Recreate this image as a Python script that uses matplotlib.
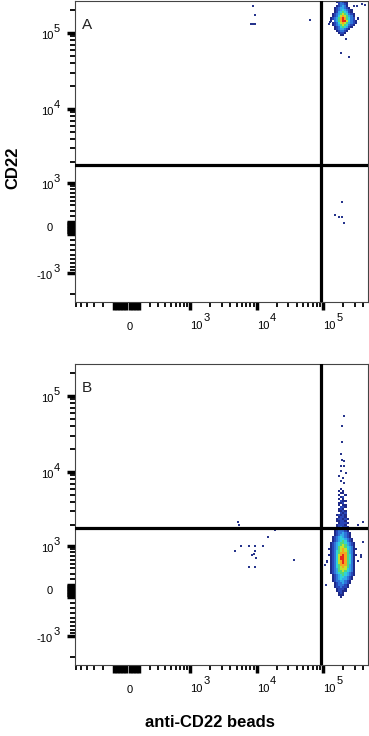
"""
Flow cytometry pseudocolor plots: CD22 vs anti-CD22 beads (panels A and B).
"""
import numpy as np
import matplotlib
matplotlib.use("Agg")
import matplotlib.pyplot as plt
from matplotlib.colors import ListedColormap, BoundaryNorm
from matplotlib.ticker import NullFormatter

plt.rcParams['font.family'] = ['Liberation Sans', 'DejaVu Sans']

# asinh cofactors of the biexponential-like display scales
X_COFACTOR = 221.0
Y_COFACTOR = 548.0

x_limits = (-630, 470000)
y_limits = (-2550, 262144)

gate_x = 92000
gate_y = 1800

# labelled decades: (value, base text, exponent text)
x_labels = [(0, '0', ''), (1e3, '10', '3'), (1e4, '10', '4'), (1e5, '10', '5')]
y_labels = [(-1e3, '-10', '3'), (0, '0', ''), (1e3, '10', '3'), (1e4, '10', '4'), (1e5, '10', '5')]

zero_block = [k * 25 for k in range(-4, 5)]
x_major = zero_block + [1e3, 1e4, 1e5]
x_minor = ([-600, -500, -400, -300, -200] + [k * 100 for k in range(2, 10)]
           + [k * 1000 for k in range(2, 10)] + [k * 10000 for k in range(2, 10)]
           + [2e5, 3e5, 4e5])
y_major = [-1e3] + zero_block + [1e3, 1e4, 1e5]
y_minor = ([-2000] + [-k * 100 for k in range(2, 10)] + [k * 100 for k in range(2, 10)]
           + [k * 1000 for k in range(2, 10)] + [k * 10000 for k in range(2, 10)] + [2e5])

# ---- Panel A: dense population (density levels 0-9, rows top -> bottom) ----
a_core_x = (128400, 338600)
a_core_y = (92000, 274600)
a_core = [
    "00001221000000",
    "00012321100000",
    "00002332100000",
    "00012343100000",
    "00123443210000",
    "00123454321000",
    "00124565421000",
    "01234676532100",
    "01235787643100",
    "12346898653201",
    "10346899753210",
    "01235787643210",
    "01234676532100",
    "00123565421000",
    "00123443210000",
    "00012332100000",
    "00001221000000",
    "00000110000000",
]
a_pts_x = [8860, 9590, 8270, 8860, 9590, 64300, 385000, 431000, 285000, 324000,
           120000, 128400, 216000, 181700, 239600, 192700, 152700, 171300, 192700, 208600]
a_pts_y = [222000, 169000, 128800, 128800, 128800, 149600, 236000, 229000, 224000, 224000,
           128800, 136700, 81700, 55100, 48800, 463, 222, 181, 181, 78]

# ---- Panel B ----
b_core_x = (111900, 338600)
b_core_y = (-151, 6200)
b_core = [
    "0000000100000000",
    "0000001010000000",
    "0000000110000000",
    "0000001001000000",
    "0000000120000000",
    "0000001010000000",
    "0000000211000000",
    "0000001120000000",
    "0000001011000000",
    "0000000221000000",
    "0000001210000000",
    "0000001121000000",
    "0000000212000000",
    "0000012121000000",
    "0000001221000000",
    "0000012212100000",
    "0000011221000000",
    "0000001222100000",
    "0000012221000001",
    "0000012322100000",
    "0000012332100000",
    "0000123332100000",
    "0000123343210000",
    "0000123443210000",
    "0001234543210000",
    "0001234554321000",
    "0001234565321000",
    "0012345665432100",
    "0012345676432100",
    "0012346776543100",
    "0112346787543110",
    "0012356787643100",
    "0012356888643100",
    "0112357898653110",
    "0012357998653100",
    "0012357998653100",
    "1012357898653101",
    "0012357898653100",
    "0012356888643100",
    "0012356787643100",
    "0012346777543100",
    "0012346676543100",
    "0012345665432100",
    "0001234565432100",
    "0001234554321000",
    "0001234544321000",
    "0001233443210000",
    "0000123343210000",
    "0000123332100000",
    "0000122322100000",
    "0000012221000000",
    "0000012211000000",
    "0000001210000000",
    "0000001110000000",
    "0000000100000000",
    "0000000000000000",
]
b_pts_x = [5190, 5510, 19200, 15000, 4800, 5850, 7610, 9590, 12500, 9590, 8550, 9040,
           9920, 7610, 9590, 36100, 398000, 398000, 362700, 371500, 114700, 108000, 111800,
           203500, 192700, 192700, 186100, 192700, 208600, 181700, 203500, 181700, 216000,
           171300, 199300, 181700, 203500]
b_pts_y = [2140, 1990, 1660, 1365, 821, 979, 979, 979, 1005, 821, 725, 753,
           637, 441, 441, 594, 2140, 1155, 725, 677, 552, 478, 100,
           53900, 39800, 24500, 17400, 14500, 13800, 11800, 11800, 10200, 9700,
           8770, 8330, 7510, 7180]

level_colors = ['#1f2a88', '#2846b8', '#2f74d8', '#33a8e8', '#2fd2d8',
                '#52d67a', '#c4e02c', '#f2a81e', '#e8261c']
cmap = ListedColormap(level_colors)
norm = BoundaryNorm(np.arange(0.5, 10.5, 1.0), cmap.N)

PX = 0.72  # points per pixel at dpi 100
TICK_FONT = 8


def fwd_x(v):
    return np.arcsinh(np.asarray(v, float) / X_COFACTOR)


def inv_x(u):
    return X_COFACTOR * np.sinh(np.asarray(u, float))


def fwd_y(v):
    return np.arcsinh(np.asarray(v, float) / Y_COFACTOR)


def inv_y(u):
    return Y_COFACTOR * np.sinh(np.asarray(u, float))


def label_ticks(ax):
    """Cytometer style decade labels: '10' with a full size raised exponent."""
    xt = ax.get_xaxis_transform()
    for val, base, exp in x_labels:
        if exp:
            ax.annotate(base, (val, 0), xycoords=xt, xytext=(0, -24 * PX),
                        textcoords='offset points', ha='left', va='center',
                        fontsize=TICK_FONT, annotation_clip=False)
            ax.annotate(exp, (val, 0), xycoords=xt, xytext=(13 * PX, -16.5 * PX),
                        textcoords='offset points', ha='left', va='center',
                        fontsize=TICK_FONT, annotation_clip=False)
        else:
            ax.annotate(base, (val, 0), xycoords=xt, xytext=(3 * PX, -25 * PX),
                        textcoords='offset points', ha='center', va='center',
                        fontsize=TICK_FONT, annotation_clip=False)
    yt = ax.get_yaxis_transform()
    for val, base, exp in y_labels:
        if exp:
            ax.annotate(base, (0, val), xycoords=yt, xytext=(-22 * PX, -3.5 * PX),
                        textcoords='offset points', ha='right', va='center',
                        fontsize=TICK_FONT, annotation_clip=False)
            ax.annotate(exp, (0, val), xycoords=yt, xytext=(-21.5 * PX, 4 * PX),
                        textcoords='offset points', ha='left', va='center',
                        fontsize=TICK_FONT, annotation_clip=False)
        else:
            ax.annotate(base, (0, val), xycoords=yt, xytext=(-22 * PX, 0),
                        textcoords='offset points', ha='right', va='center',
                        fontsize=TICK_FONT, annotation_clip=False)


def draw_panel(ax, core, x_rng, y_rng, pts_x, pts_y, letter):
    ax.set_xscale('function', functions=(fwd_x, inv_x))
    ax.set_yscale('function', functions=(fwd_y, inv_y))

    levels = np.array([[int(c) for c in row] for row in core[::-1]], float)
    grid = np.ma.masked_equal(levels, 0)
    xe = inv_x(np.linspace(fwd_x(x_rng[0]), fwd_x(x_rng[1]), levels.shape[1] + 1))
    ye = inv_y(np.linspace(fwd_y(y_rng[0]), fwd_y(y_rng[1]), levels.shape[0] + 1))
    ax.pcolormesh(xe, ye, grid, cmap=cmap, norm=norm, shading='flat',
                  antialiased=False, linewidth=0, zorder=1)
    ax.scatter(pts_x, pts_y, s=1.6, marker='s', c='#26348c', linewidths=0, zorder=1)

    ax.axvline(gate_x, color='black', lw=2.3, zorder=3)
    ax.axhline(gate_y, color='black', lw=2.3, zorder=3)

    ax.set_xlim(*x_limits)
    ax.set_ylim(*y_limits)

    ax.set_xticks(x_major)
    ax.set_xticks(x_minor, minor=True)
    ax.set_yticks(y_major)
    ax.set_yticks(y_minor, minor=True)
    ax.xaxis.set_minor_formatter(NullFormatter())
    ax.yaxis.set_minor_formatter(NullFormatter())
    ax.tick_params(labelbottom=False, labelleft=False)

    ax.tick_params(which='major', direction='out', length=5.5, width=2.5, color='black')
    ax.tick_params(which='minor', direction='out', length=3.6, width=1.3, color='black')
    label_ticks(ax)

    for sp in ax.spines.values():
        sp.set_color('#444444')
        sp.set_linewidth(0.8)

    ax.text(0.024, 0.92, letter, transform=ax.transAxes, fontsize=11,
            ha='left', va='center', color='#222222')


fig = plt.figure(figsize=(3.69, 7.36), dpi=100)
ax_a = fig.add_axes([0.2033, 0.5897, 0.794, 0.409])
ax_b = fig.add_axes([0.2033, 0.0965, 0.794, 0.409])

draw_panel(ax_a, a_core, a_core_x, a_core_y, a_pts_x, a_pts_y, 'A')
draw_panel(ax_b, b_core, b_core_x, b_core_y, b_pts_x, b_pts_y, 'B')

fig.text(0.035, 0.772, 'CD22', rotation=90, fontsize=12, fontweight='bold',
         ha='center', va='center')
fig.text(0.569, 0.0177, 'anti-CD22 beads', fontsize=12, fontweight='bold',
         ha='center', va='center')

fig.savefig('out.png', dpi=100)
